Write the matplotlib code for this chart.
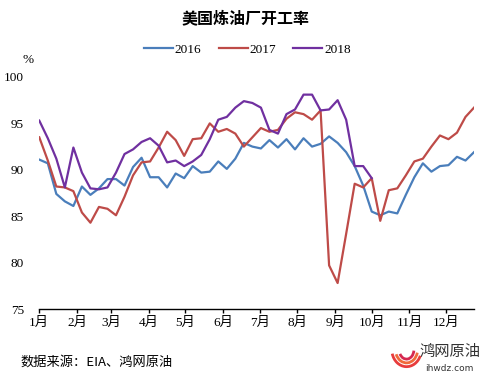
import matplotlib
matplotlib.use('Agg')
import matplotlib.pyplot as plt
from matplotlib.patches import Arc

plt.rcParams['font.family'] = ['Liberation Serif', 'Noto Sans CJK SC']

# weekly US refinery utilization (%)
rate_2016 = [91.1, 90.7, 87.4, 86.6, 86.1, 88.2, 87.3, 88.0, 89.0, 89.0,
             88.3, 90.3, 91.3, 89.2, 89.2, 88.1, 89.6, 89.1, 90.4, 89.7,
             89.8, 90.9, 90.1, 91.2, 92.9, 92.5, 92.3, 93.2, 92.4, 93.3,
             92.2, 93.4, 92.5, 92.8, 93.6, 92.9, 91.9, 90.4, 88.3, 85.5,
             85.1, 85.5, 85.3, 87.3, 89.2, 90.7, 89.8, 90.4, 90.5, 91.4,
             91.0, 91.9]
rate_2017 = [93.5, 91.0, 88.2, 88.1, 87.7, 85.4, 84.3, 86.0, 85.8, 85.1,
             87.1, 89.4, 90.8, 90.9, 92.4, 94.1, 93.2, 91.5, 93.3, 93.4,
             95.0, 94.1, 94.4, 93.9, 92.5, 93.5, 94.5, 94.1, 94.3, 95.5,
             96.2, 96.0, 95.4, 96.4, 79.7, 77.8, 83.1, 88.5, 88.1, 89.1,
             84.5, 87.8, 88.0, 89.4, 90.9, 91.2, 92.5, 93.7, 93.3, 94.0,
             95.7, 96.7]
rate_2018 = [95.3, 93.4, 91.2, 88.1, 92.4, 89.7, 88.0, 87.9, 88.1, 89.7,
             91.7, 92.2, 93.0, 93.4, 92.6, 90.8, 91.0, 90.4, 90.9, 91.6,
             93.3, 95.4, 95.7, 96.7, 97.4, 97.2, 96.7, 94.3, 93.9, 96.0,
             96.5, 98.1, 98.1, 96.4, 96.5, 97.5, 95.4, 90.4, 90.4, 89.1]

series_names = ['2016', '2017', '2018']
series_colors = ['#4a7ebb', '#be4b48', '#7030a0']

# first day of each month (day of year), weekly x axis
month_start_days = [0, 31, 59, 90, 120, 151, 181, 212, 243, 273, 304, 334]
month_labels = ['1月', '2月', '3月', '4月', '5月', '6月',
                '7月', '8月', '9月', '10月', '11月', '12月']

fig = plt.figure(figsize=(4.91, 3.78), dpi=100)
ax = fig.add_axes([0.080, 0.1825, 0.8854, 0.6138])

for name, vals, col in zip(series_names, [rate_2016, rate_2017, rate_2018], series_colors):
    ax.plot(range(len(vals)), vals, color=col, lw=1.6, label=name)

ax.set_xlim(0, 51)
ax.set_ylim(75, 100)
ax.set_yticks([75, 80, 85, 90, 95, 100])
ax.set_xticks([d / 7 for d in month_start_days])
ax.set_xticklabels(month_labels)

for s in ['top', 'right', 'left']:
    ax.spines[s].set_visible(False)
ax.spines['bottom'].set_linewidth(1.0)
ax.tick_params(axis='y', length=0, pad=11, labelsize=9.5)
ax.tick_params(axis='x', length=3, width=1.0, pad=3, labelsize=9.5)

fig.text(0.5, 0.952, '美国炼油厂开工率', ha='center', va='center',
         fontsize=11.5, fontweight='bold', family=['Noto Sans CJK SC'])
fig.text(0.057, 0.841, '%', ha='center', va='center', fontsize=9.5)

fig.legend(loc='center', bbox_to_anchor=(0.504, 0.868), ncol=3, frameon=False,
           fontsize=9.5, handlelength=2.2, handletextpad=0.15, columnspacing=1.3)

fig.text(0.041, 0.042, '数据来源：EIA、鸿网原油', ha='left', va='center',
         fontsize=9.5, family=['Noto Sans CJK SC'])

# logo
fig.text(0.855, 0.069, '鸿网原油', ha='left', va='center', fontsize=11,
         family=['Noto Sans CJK SC'], color='#333333')
fig.text(0.866, 0.026, 'ihwdz.com', ha='left', va='center', fontsize=6.5,
         family=['DejaVu Sans'], color='#333333')
for w, h, t1, t2, c in [(0.06, 0.09, 200, 330, '#e83c3c'),
                        (0.045, 0.07, 210, 340, '#f06a3a'),
                        (0.03, 0.05, 220, 350, '#d62850')]:
    fig.add_artist(Arc((0.828, 0.075), w, h, theta1=t1, theta2=t2,
                       color=c, lw=2.0, transform=fig.transFigure))

fig.savefig('out.png', dpi=100)
